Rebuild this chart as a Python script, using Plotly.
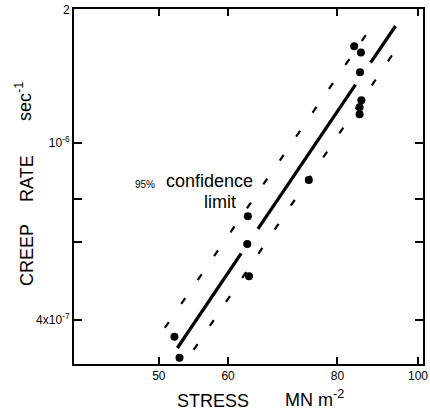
import math
import plotly.graph_objects as go

# ---- data ----
stress = [52.1, 52.8, 63.2, 63.1, 63.4, 74.2, 83.6, 85.1, 84.9, 85.2, 84.8, 84.8]
creep_rate = [3.67e-7, 3.29e-7, 6.85e-7, 5.93e-7, 5.02e-7, 8.26e-7,
              1.651e-6, 1.599e-6, 1.443e-6, 1.249e-6, 1.204e-6, 1.161e-6]

# regression line (drawn in pieces, with the small gaps of the original)
fit_stress = [52.5, 62.1, None, 64.9, 83.9, None, 87.3, 93.2]
fit_rate = [3.46e-7, 5.65e-7, None, 6.41e-7, 1.353e-6, None, 1.517e-6, 1.834e-6]

# 95% confidence limits
upper_stress = [50.8, 87.6]
upper_rate = [3.84e-7, 1.831e-6]
lower_stress = [54.8, 92.7]
lower_rate = [3.425e-7, 1.593e-6]

x_tickvals = [50, 60, 80, 98.9]
x_ticktext = ["50", "60", "80", "100"]
y_tickvals = [4e-7, 6e-7, 7.5e-7, 1e-6, 1.998e-6]
y_ticktext = ["4x10<sup>-7</sup>", "", "", "10<sup>-6</sup>", "2"]

x_range = [40, 100.2]
y_range = [3.185e-7, 2.0e-6]

FONT = "Liberation Sans, Arial, Helvetica, sans-serif"

fig = go.Figure()
fig.add_trace(go.Scatter(x=upper_stress, y=upper_rate, mode="lines",
                         line=dict(color="black", width=2.2, dash="7px,22px"),
                         hoverinfo="skip"))
fig.add_trace(go.Scatter(x=lower_stress, y=lower_rate, mode="lines",
                         line=dict(color="black", width=2.2, dash="7px,22px"),
                         hoverinfo="skip"))
fig.add_trace(go.Scatter(x=fit_stress, y=fit_rate, mode="lines",
                         line=dict(color="black", width=3.3),
                         connectgaps=False, hoverinfo="skip"))
fig.add_trace(go.Scatter(x=stress, y=creep_rate, mode="markers",
                         marker=dict(color="black", size=8)))

axis_common = dict(showline=True, linewidth=2, linecolor="black", mirror="ticks",
                   ticks="inside", tickwidth=2, tickcolor="black",
                   showgrid=False, zeroline=False, ticklabeloverflow="allow",
                   automargin=False,
                   tickfont=dict(family=FONT, size=12, color="black"))

fig.update_xaxes(type="log", range=[math.log10(x_range[0]), math.log10(x_range[1])],
                 tickmode="array", tickvals=x_tickvals, ticktext=x_ticktext,
                 ticklen=7, **axis_common)
fig.update_yaxes(type="log", range=[math.log10(y_range[0]), math.log10(y_range[1]) + 0.0005],
                 tickmode="array", tickvals=y_tickvals, ticktext=y_ticktext,
                 ticklen=8, **axis_common)

L, R, T, B = 74, 7, 9, 50
W, H = 430, 414
pw, ph = W - L - R, H - T - B


def px(x):
    return (x - L) / pw


def py(y):
    return (H - B - y) / ph


ann = [
    dict(text="STRESS", x=px(213), y=py(401), size=18, angle=0),
    dict(text="MN m<sup>-2</sup>", x=px(314), y=py(398), size=18, angle=0),
    dict(text="CREEP", x=px(27), y=py(255), size=18, angle=-90),
    dict(text="RATE", x=px(27), y=py(179), size=18, angle=-90),
    dict(text="sec<sup>-1</sup>", x=px(23), y=py(101), size=18, angle=-90),
    dict(text="95%", x=px(145), y=py(184), size=10, angle=0),
    dict(text="confidence", x=px(209), y=py(181), size=18, angle=0),
    dict(text="limit", x=px(219.5), y=py(202), size=18, angle=0),
]
for a in ann:
    fig.add_annotation(text=a["text"], x=a["x"], y=a["y"], xref="paper", yref="paper",
                       xanchor="center", yanchor="middle", showarrow=False,
                       textangle=a["angle"],
                       font=dict(family=FONT, size=a["size"], color="black"))

fig.update_layout(width=W, height=H, margin=dict(l=L, r=R, t=T, b=B, autoexpand=False),
                  paper_bgcolor="white", plot_bgcolor="white", showlegend=False,
                  font=dict(family=FONT, color="black"))

fig.write_html("out.html")
